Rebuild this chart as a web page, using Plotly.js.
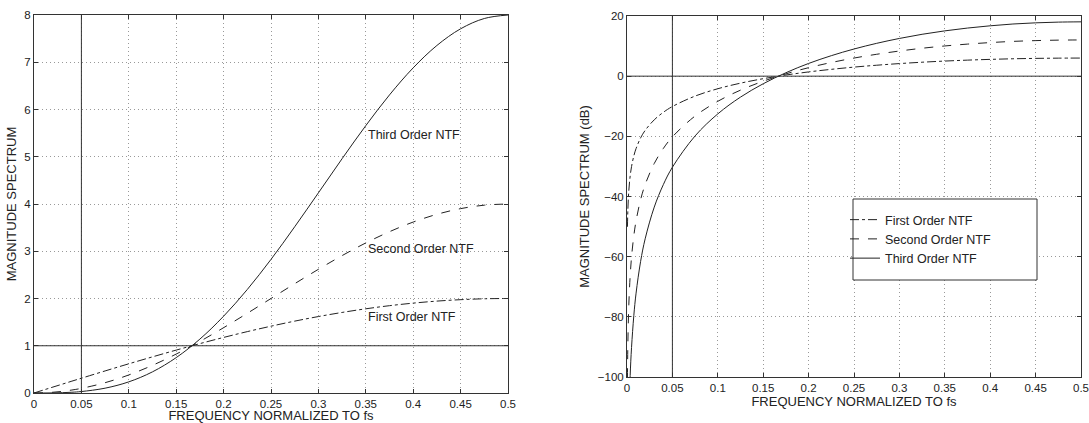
<!DOCTYPE html>
<html>
<head>
<meta charset="utf-8">
<script src="https://cdn.plot.ly/plotly-3.0.1.min.js"></script>
<style>html,body{margin:0;padding:0;background:#fff;}#chart{width:1089px;height:423px;}</style>
</head>
<body>
<div id="chart"></div>
<script>
// ---- Data ----
// Left panel: linear magnitude of the noise transfer functions
const freqLin = [0, 0.01, 0.02, 0.03, 0.04, 0.05, 0.075, 0.1, 0.125, 0.15, 0.175, 0.2, 0.225, 0.25, 0.275, 0.3, 0.325, 0.35, 0.375, 0.4, 0.425, 0.45, 0.475, 0.5];
const firstLin  = [0, 0.063, 0.126, 0.188, 0.251, 0.313, 0.467, 0.618, 0.765, 0.908, 1.045, 1.176, 1.299, 1.414, 1.521, 1.618, 1.705, 1.782, 1.848, 1.902, 1.945, 1.975, 1.994, 2.0];
const secondLin = [0, 0.004, 0.016, 0.035, 0.063, 0.098, 0.218, 0.382, 0.586, 0.824, 1.092, 1.382, 1.687, 2.0, 2.313, 2.618, 2.908, 3.176, 3.414, 3.618, 3.782, 3.902, 3.975, 4.0];
const thirdLin  = [0, 0.0002, 0.002, 0.007, 0.016, 0.031, 0.102, 0.236, 0.448, 0.749, 1.141, 1.625, 2.191, 2.828, 3.518, 4.236, 4.959, 5.659, 6.309, 6.882, 7.355, 7.708, 7.926, 8.0];

// Right panel: magnitude in dB
const freqDb = [0.0005, 0.001, 0.002, 0.0035, 0.005, 0.0075, 0.01, 0.015, 0.02, 0.03, 0.04, 0.05, 0.075, 0.1, 0.125, 0.15, 0.175, 0.2, 0.225, 0.25, 0.275, 0.3, 0.325, 0.35, 0.375, 0.4, 0.425, 0.45, 0.475, 0.5];
const firstDb  = [-50.06, -44.04, -38.02, -33.16, -30.06, -26.54, -24.04, -20.52, -18.02, -14.51, -12.02, -10.09, -6.62, -4.18, -2.32, -0.84, 0.38, 1.41, 2.27, 3.01, 3.64, 4.18, 4.64, 5.02, 5.33, 5.58, 5.78, 5.91, 5.99, 6.02];
const secondDb = [-100.11, -88.08, -76.04, -66.32, -60.12, -53.08, -48.08, -41.04, -36.04, -29.02, -24.04, -20.18, -13.24, -8.36, -4.64, -1.68, 0.76, 2.82, 4.54, 6.02, 7.28, 8.36, 9.28, 10.04, 10.66, 11.16, 11.56, 11.82, 11.98, 12.04];
const thirdDb  = [-150.17, -132.12, -114.06, -99.48, -90.18, -79.62, -72.12, -61.56, -54.06, -43.53, -36.06, -30.27, -19.86, -12.54, -6.96, -2.52, 1.14, 4.23, 6.81, 9.03, 10.92, 12.54, 13.92, 15.06, 15.99, 16.74, 17.34, 17.73, 17.97, 18.06];

const seriesNames = ["First Order NTF", "Second Order NTF", "Third Order NTF"];
const xTicks = [0, 0.05, 0.1, 0.15, 0.2, 0.25, 0.3, 0.35, 0.4, 0.45, 0.5];
const xTickText = ["0", "0.05", "0.1", "0.15", "0.2", "0.25", "0.3", "0.35", "0.4", "0.45", "0.5"];
const yTicksLin = [0, 1, 2, 3, 4, 5, 6, 7, 8];
const yTicksDb = [-100, -80, -60, -40, -20, 0, 20];
const markerFreq = [0.05];   // vertical reference line (both panels)
const unityLin = [1];        // horizontal reference, left panel
const unityDb = [0];         // horizontal reference, right panel
const xTitle = "FREQUENCY NORMALIZED TO fs";
const yTitleLin = "MAGNITUDE SPECTRUM";
const yTitleDb = "MAGNITUDE SPECTRUM (dB)";

// ---- Plot ----
const dashes = ["dashdot", "dash", "solid"];
const linSeries = [firstLin, secondLin, thirdLin];
const dbSeries = [firstDb, secondDb, thirdDb];
const FONT = "Liberation Sans, Arial, sans-serif";
const INK = "#222";

const traces = [];
linSeries.forEach((ys, i) => traces.push({
  x: freqLin, y: ys, type: "scatter", mode: "lines", xaxis: "x", yaxis: "y",
  line: {color: INK, width: 1, dash: dashes[i], shape: "spline"}, showlegend: false, name: seriesNames[i]
}));
dbSeries.forEach((ys, i) => traces.push({
  x: freqDb, y: ys, type: "scatter", mode: "lines", xaxis: "x2", yaxis: "y2",
  line: {color: INK, width: 1, dash: dashes[i], shape: "spline"}, showlegend: true, name: seriesNames[i]
}));

const axisCommon = {
  showline: true, linecolor: "#333", linewidth: 1, mirror: "ticks",
  ticks: "inside", ticklen: 4, tickcolor: "#333",
  showgrid: true, gridcolor: "#999", griddash: "1px,3px", gridwidth: 1,
  zeroline: false, tickfont: {family: FONT, size: 11.5, color: INK},
  ticklabeloverflow: "allow"
};

const shapes = [];
markerFreq.forEach(f => {
  shapes.push({type: "line", xref: "x", yref: "y", x0: f, x1: f, y0: 0, y1: 8, line: {color: "#333", width: 1}});
  shapes.push({type: "line", xref: "x2", yref: "y2", x0: f, x1: f, y0: -100, y1: 20, line: {color: "#333", width: 1}});
});
unityLin.forEach(v => shapes.push({type: "line", xref: "x", yref: "y", x0: 0, x1: 0.5, y0: v, y1: v, line: {color: "#333", width: 1}}));
unityDb.forEach(v => shapes.push({type: "line", xref: "x2", yref: "y2", x0: 0, x1: 0.5, y0: v, y1: v, line: {color: "#333", width: 1}}));
// legend frame
shapes.push({type: "rect", xref: "paper", yref: "paper", x0: 853/1089, x1: 1037/1089, y0: 1 - 280/423, y1: 1 - 199/423,
  fillcolor: "#fff", line: {color: "#333", width: 1}, layer: "above"});

const annY = [1.6, 3.05, 5.45];
const annotations = seriesNames.map((t, i) => ({
  text: t, x: 0.35, y: annY[i], xref: "x", yref: "y", xanchor: "left", yanchor: "middle",
  showarrow: false, font: {family: FONT, size: 12.5, color: INK}
}));

const layout = {
  width: 1089, height: 423,
  margin: {l: 0, r: 0, t: 0, b: 0},
  paper_bgcolor: "#fff", plot_bgcolor: "#fff",
  font: {family: FONT, size: 12, color: INK},
  xaxis: Object.assign({}, axisCommon, {
    domain: [34/1089, 508/1089], range: [0, 0.5], tickvals: xTicks, ticktext: xTickText, anchor: "y",
    title: {text: xTitle, font: {family: FONT, size: 13, color: INK}, standoff: 3}
  }),
  yaxis: Object.assign({}, axisCommon, {
    domain: [1 - 393/423, 1 - 15/423], range: [0, 8], tickvals: yTicksLin, anchor: "x",
    title: {text: yTitleLin, font: {family: FONT, size: 13, color: INK}, standoff: 4}
  }),
  xaxis2: Object.assign({}, axisCommon, {
    domain: [627/1089, 1081/1089], range: [0, 0.5], tickvals: xTicks, ticktext: xTickText, anchor: "y2",
    title: {text: xTitle, font: {family: FONT, size: 13, color: INK}, standoff: 3}
  }),
  yaxis2: Object.assign({}, axisCommon, {
    domain: [1 - 377/423, 1 - 16/423], range: [-100, 20], tickvals: yTicksDb, anchor: "x2",
    title: {text: yTitleDb, font: {family: FONT, size: 13, color: INK}, standoff: 5}
  }),
  showlegend: true,
  legend: {
    x: 845/1089, y: 1 - 205/423, xanchor: "left", yanchor: "top",
    bgcolor: "rgba(0,0,0,0)", borderwidth: 0,
    font: {family: FONT, size: 12.5, color: INK}, tracegroupgap: 0, itemwidth: 30
  },
  shapes: shapes,
  annotations: annotations
};

Plotly.newPlot("chart", traces, layout, {displayModeBar: false, staticPlot: true});
</script>
</body>
</html>
